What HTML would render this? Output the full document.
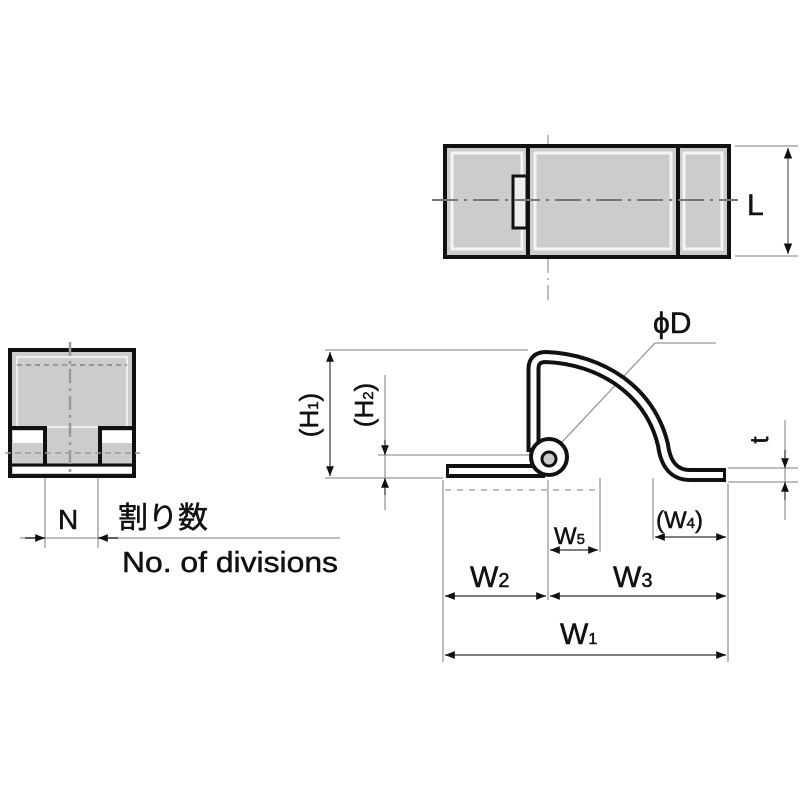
<!DOCTYPE html>
<html><head><meta charset="utf-8"><style>
html,body{margin:0;padding:0;background:#fff}
svg{display:block}
text{font-family:"Liberation Sans","Noto Sans CJK JP",sans-serif;fill:#111;stroke:#111;stroke-width:0.5}
</style></head><body>
<svg width="800" height="800" viewBox="0 0 800 800" xmlns="http://www.w3.org/2000/svg">
<defs>
<marker id="a" viewBox="0 0 10 10" refX="10" refY="5" markerWidth="9" markerHeight="7" orient="auto-start-reverse"><path d="M0,1 L10,5 L0,9 z" fill="#111"/></marker>
</defs>
<g fill="none" stroke="#999" stroke-width="1.3">
<line x1="735" y1="146" x2="798" y2="146"/><line x1="735" y1="256" x2="798" y2="256"/>
<line x1="548" y1="135" x2="548" y2="300" stroke-dasharray="18 5 2 5"/>
</g>
<rect x="445" y="146" width="284" height="111" fill="#ccc" stroke="#111" stroke-width="4"/>
<g fill="none" stroke="#f4f4f4" stroke-width="3">
<rect x="452" y="153" width="70" height="96"/><rect x="535" y="153" width="136" height="96"/><rect x="684" y="153" width="38" height="96"/>
</g>
<line x1="528" y1="146" x2="528" y2="257" stroke="#111" stroke-width="4"/>
<line x1="678" y1="146" x2="678" y2="257" stroke="#111" stroke-width="4"/>
<rect x="513" y="176" width="14" height="52" fill="#eee" stroke="#111" stroke-width="3"/>
<line x1="432" y1="200" x2="738" y2="200" stroke="#777" stroke-width="2" stroke-dasharray="26 6 3 6"/>
<line x1="788" y1="148" x2="788" y2="254" stroke="#777" stroke-width="1.5" marker-start="url(#a)" marker-end="url(#a)"/>
<text x="747" y="215" font-size="30">L</text>

<g fill="none" stroke="#999" stroke-width="1.3">
<line x1="325" y1="350" x2="528" y2="350"/>
<line x1="325" y1="478" x2="443" y2="478"/>
<line x1="378" y1="455" x2="560" y2="455"/>
<line x1="728" y1="468" x2="798" y2="468"/>
<line x1="728" y1="482" x2="798" y2="482"/>
<line x1="443" y1="480" x2="443" y2="662"/>
<line x1="548" y1="480" x2="548" y2="600"/>
<line x1="600" y1="478" x2="600" y2="552"/>
<line x1="653" y1="478" x2="653" y2="540"/>
<line x1="728" y1="484" x2="728" y2="662"/>
<line x1="445" y1="490" x2="595" y2="490" stroke-dasharray="6 6"/>
<line x1="548" y1="457" x2="655" y2="343"/><line x1="655" y1="343" x2="716" y2="343"/>
<line x1="385" y1="375" x2="385" y2="510"/>
<line x1="785" y1="420" x2="785" y2="520"/>
</g>
<g stroke="#555" stroke-width="1.4" fill="none">
<line x1="330" y1="352" x2="330" y2="476" marker-start="url(#a)" marker-end="url(#a)"/>
<line x1="385" y1="440" x2="385" y2="455" marker-end="url(#a)"/>
<line x1="385" y1="495" x2="385" y2="478" marker-end="url(#a)"/>
<line x1="785" y1="450" x2="785" y2="468" marker-end="url(#a)"/>
<line x1="785" y1="500" x2="785" y2="482" marker-end="url(#a)"/>
<line x1="550" y1="550" x2="598" y2="550" marker-start="url(#a)" marker-end="url(#a)"/>
<line x1="655" y1="537" x2="726" y2="537" marker-start="url(#a)" marker-end="url(#a)"/>
<line x1="445" y1="596" x2="546" y2="596" marker-start="url(#a)" marker-end="url(#a)"/>
<line x1="550" y1="596" x2="726" y2="596" marker-start="url(#a)" marker-end="url(#a)"/>
<line x1="445" y1="655" x2="726" y2="655" marker-start="url(#a)" marker-end="url(#a)"/>
</g>
<g fill="none" stroke-linejoin="round">
<path d="M446,471 L545,471" stroke="#111" stroke-width="14"/>
<path d="M533.5,452 L533.5,369 Q533.5,357 546,357 C600,359 650,390 663,445 Q667,475 690,475 L726,475" stroke="#111" stroke-width="14"/>
<path d="M449,471 L542,471" stroke="#fff" stroke-width="6"/>
<path d="M533.5,448 L533.5,369 Q533.5,357 546,357 C600,359 650,390 663,445 Q667,475 690,475 L723,475" stroke="#fff" stroke-width="6"/>
</g>
<circle cx="549" cy="457" r="18" fill="#fff" stroke="#111" stroke-width="4"/>
<circle cx="549" cy="459" r="7" fill="#ccc" stroke="#111" stroke-width="3"/>
<text transform="translate(318,415) rotate(-90)" font-size="26" text-anchor="middle">(H<tspan font-size="15">1</tspan>)</text>
<text transform="translate(373,405) rotate(-90)" font-size="26" text-anchor="middle">(H<tspan font-size="15">2</tspan>)</text>
<text transform="translate(768,440) rotate(-90)" font-size="26" text-anchor="middle">t</text>
<text x="653" y="333" font-size="30">ϕD</text>
<text x="554" y="544" font-size="24">W<tspan font-size="15">5</tspan></text>
<text x="656" y="528" font-size="24">(W<tspan font-size="15">4</tspan>)</text>
<text x="470" y="587" font-size="30">W<tspan font-size="20">2</tspan></text>
<text x="613" y="587" font-size="30">W<tspan font-size="20">3</tspan></text>
<text x="560" y="644" font-size="30">W<tspan font-size="16">1</tspan></text>

<rect x="10" y="350" width="124" height="126" fill="#ccc" stroke="#111" stroke-width="4"/>
<rect x="17" y="357" width="110" height="70" fill="none" stroke="#eee" stroke-width="2"/>
<line x1="17" y1="365" x2="127" y2="365" stroke="#999" stroke-width="2" stroke-dasharray="5 4"/>
<path d="M12,428 L45,428 L45,465 M100,465 L100,428 L132,428" fill="none" stroke="#111" stroke-width="4"/>
<rect x="13" y="431" width="30" height="12" fill="#fff"/><rect x="102" y="431" width="30" height="12" fill="#fff"/>
<rect x="13" y="467" width="119" height="6" fill="#fff"/>
<line x1="10" y1="465" x2="134" y2="465" stroke="#111" stroke-width="3"/>
<line x1="5" y1="453" x2="140" y2="453" stroke="#999" stroke-width="1.5" stroke-dasharray="6 4"/>
<line x1="70" y1="342" x2="70" y2="476" stroke="#999" stroke-width="2.5" stroke-dasharray="14 5 3 5"/>
<g stroke="#999" stroke-width="1.3"><line x1="45" y1="478" x2="45" y2="548"/><line x1="98" y1="478" x2="98" y2="548"/>
<line x1="20" y1="538" x2="340" y2="538"/></g>
<line x1="25" y1="538" x2="45" y2="538" stroke="#333" stroke-width="1.4" marker-end="url(#a)"/>
<line x1="118" y1="538" x2="98" y2="538" stroke="#333" stroke-width="1.4" marker-end="url(#a)"/>
<text x="58" y="529" font-size="28">N</text>
<text x="118" y="528" font-size="30">割り数</text>
<text x="122" y="572" font-size="29" textLength="216" lengthAdjust="spacingAndGlyphs">No. of divisions</text>
</svg>
</body></html>
